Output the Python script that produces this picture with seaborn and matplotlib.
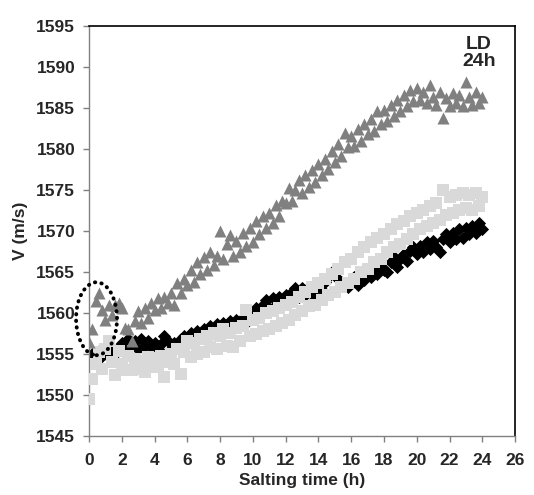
import matplotlib
matplotlib.use("Agg")
import matplotlib.pyplot as plt
import seaborn as sns
from matplotlib.patches import Ellipse

# ---- data ----
time_h = [
    0.0, 0.2, 0.4, 0.6, 0.8, 1.0, 1.2, 1.4, 1.6, 1.8,
    2.0, 2.2, 2.4, 2.6, 2.8, 3.0, 3.2, 3.4, 3.6, 3.8,
    4.0, 4.2, 4.4, 4.6, 4.8, 5.0, 5.2, 5.4, 5.6, 5.8,
    6.0, 6.2, 6.4, 6.6, 6.8, 7.0, 7.2, 7.4, 7.6, 7.8,
    8.0, 8.2, 8.4, 8.6, 8.8, 9.0, 9.2, 9.4, 9.6, 9.8,
    10.0, 10.2, 10.4, 10.6, 10.8, 11.0, 11.2, 11.4, 11.6, 11.8,
    12.0, 12.2, 12.4, 12.6, 12.8, 13.0, 13.2, 13.4, 13.6, 13.8,
    14.0, 14.2, 14.4, 14.6, 14.8, 15.0, 15.2, 15.4, 15.6, 15.8,
    16.0, 16.2, 16.4, 16.6, 16.8, 17.0, 17.2, 17.4, 17.6, 17.8,
    18.0, 18.2, 18.4, 18.6, 18.8, 19.0, 19.2, 19.4, 19.6, 19.8,
    20.0, 20.2, 20.4, 20.6, 20.8, 21.0, 21.2, 21.4, 21.6, 21.8,
    22.0, 22.2, 22.4, 22.6, 22.8, 23.0, 23.2, 23.4, 23.6, 23.8,
    24.0,
]

v_triangles = [
    1556.5, 1558.0, 1561.5, 1562.4, 1560.4, 1559.2, 1561.0, 1559.8, 1561.0, 1561.2,
    1560.6, 1558.2, 1558.0, 1556.6, 1559.0, 1560.2, 1558.8, 1560.6, 1559.4, 1561.2,
    1560.4, 1561.8, 1560.6, 1562.0, 1561.2, 1562.4, 1561.0, 1563.6, 1562.4, 1564.2,
    1563.4, 1565.2, 1563.8, 1566.2, 1564.8, 1566.8, 1565.2, 1567.4, 1565.8, 1567.0,
    1570.0, 1566.6, 1568.4, 1569.5, 1567.0, 1568.8, 1567.4, 1569.8, 1568.2, 1570.4,
    1568.6, 1571.2, 1569.6, 1571.8, 1570.4, 1572.2, 1571.0, 1573.2, 1571.8, 1573.6,
    1573.4, 1575.2, 1573.6, 1575.0, 1576.2, 1574.6, 1576.8, 1575.4, 1577.4, 1576.0,
    1578.2, 1576.8, 1578.8, 1577.6, 1579.8, 1578.4, 1580.6, 1579.2, 1582.0, 1580.2,
    1581.6, 1580.4, 1582.4, 1581.0, 1583.0, 1581.8, 1583.6, 1582.2, 1584.6, 1583.0,
    1584.8, 1583.4, 1585.4, 1584.0, 1586.0, 1584.6, 1586.6, 1585.2, 1587.2, 1585.8,
    1587.4, 1586.0, 1587.0, 1585.6, 1587.8, 1586.4, 1585.4, 1587.0, 1583.8, 1586.2,
    1585.2, 1586.8, 1585.6, 1586.6, 1585.2, 1588.2, 1586.4, 1585.4, 1587.0, 1585.6,
    1586.4,
]

v_diamonds = [
    1554.2, 1555.0, 1554.6, 1555.4, 1554.8, 1555.2, 1554.6, 1555.4, 1555.0, 1555.8,
    1556.4, 1555.4, 1556.8, 1555.8, 1556.6, 1555.6, 1556.8, 1556.0, 1556.6, 1555.8,
    1556.4, 1555.6, 1556.2, 1557.2, 1556.6, 1555.6, 1556.4, 1555.8, 1556.8, 1557.2,
    1556.6, 1557.6, 1557.0, 1557.8, 1557.0, 1558.0, 1557.4, 1558.4, 1557.6, 1558.6,
    1557.8, 1558.8, 1558.2, 1559.0, 1558.2, 1559.2, 1558.6, 1559.4, 1558.8, 1559.8,
    1559.6, 1560.6, 1559.8, 1561.0, 1561.6, 1560.6, 1561.8, 1561.0, 1562.0, 1561.2,
    1562.2, 1561.4, 1562.6, 1563.0, 1562.0, 1563.0, 1562.2, 1563.2, 1562.4, 1562.0,
    1563.4, 1562.8, 1563.8, 1564.4, 1565.0, 1565.0, 1564.2, 1563.8, 1563.4, 1563.2,
    1564.0, 1564.4, 1563.4, 1564.8, 1564.0, 1565.2, 1564.4, 1565.6, 1564.8, 1566.0,
    1565.2, 1565.0, 1566.2, 1566.8, 1565.6, 1566.6, 1567.2, 1566.4, 1567.6, 1568.0,
    1567.2, 1568.2, 1567.4, 1568.6, 1567.8, 1568.8, 1568.0, 1567.4, 1569.0, 1569.6,
    1568.6, 1569.8, 1569.0, 1570.2, 1569.2, 1570.4, 1569.6, 1570.6, 1569.8, 1571.0,
    1570.2,
]

v_squares = [
    1549.5, 1552.0, 1553.8, 1555.2, 1553.2, 1555.6, 1556.6, 1554.0, 1552.4, 1555.4,
    1553.8, 1553.0, 1554.8, 1553.0, 1554.4, 1553.2, 1554.2, 1552.8, 1554.6, 1553.4,
    1554.4, 1553.4, 1554.8, 1552.2, 1554.0, 1555.0, 1553.8, 1555.6, 1552.6, 1555.2,
    1556.6, 1554.6, 1556.4, 1555.0, 1556.8, 1555.2, 1557.2, 1555.8, 1557.6, 1555.6,
    1557.2, 1558.0, 1556.0, 1557.6, 1555.8, 1558.2, 1556.6, 1558.4, 1560.4, 1557.2,
    1559.2, 1557.4, 1559.4, 1557.8, 1560.0, 1558.0, 1560.2, 1558.4, 1560.6, 1558.8,
    1561.0, 1559.2, 1561.4, 1559.8, 1562.0, 1560.2, 1562.6, 1560.8, 1563.2, 1561.0,
    1563.6, 1561.6, 1564.2, 1562.2, 1564.8, 1562.6, 1565.4, 1563.2, 1566.2, 1563.6,
    1566.6, 1564.2, 1567.4, 1565.0, 1568.0, 1565.4, 1568.6, 1566.2, 1569.2, 1566.6,
    1569.6, 1567.4, 1570.2, 1568.0, 1570.8, 1568.4, 1571.2, 1569.0, 1571.8, 1569.6,
    1572.2, 1570.2, 1572.6, 1570.6, 1573.0, 1571.0, 1573.4, 1571.4, 1575.0, 1572.0,
    1574.2, 1572.2, 1574.4, 1572.6, 1574.6, 1572.8, 1574.4, 1572.6, 1574.6, 1573.0,
    1574.2,
]

x_ticks = [0, 2, 4, 6, 8, 10, 12, 14, 16, 18, 20, 22, 24, 26]
y_ticks = [1545, 1550, 1555, 1560, 1565, 1570, 1575, 1580, 1585, 1590, 1595]

# ---- style ----
sns.set_style("white")
plt.rcParams["font.family"] = ["Liberation Sans", "DejaVu Sans"]
plt.rcParams["font.weight"] = "bold"

fig = plt.figure(figsize=(5.34, 4.95), dpi=100)
ax = fig.add_axes([0.1667, 0.1192, 0.7978, 0.8283])

sns.scatterplot(x=time_h, y=v_diamonds, marker="D", color="black", s=45,
                linewidth=0, ax=ax, zorder=2)
sns.scatterplot(x=time_h, y=v_squares, marker="s", color="#d9d9d9", s=75,
                linewidth=0, ax=ax, zorder=3)
sns.scatterplot(x=time_h, y=v_triangles, marker="^", color="#808080", s=75,
                linewidth=0, ax=ax, zorder=4)

ax.set_xlim(0, 26)
ax.set_ylim(1545, 1595)
ax.set_xticks(x_ticks)
ax.set_yticks(y_ticks)
ax.set_xticklabels([str(t) for t in x_ticks], fontsize=12.5, fontweight="bold")
ax.set_yticklabels([str(t) for t in y_ticks], fontsize=12.5, fontweight="bold")
ax.tick_params(axis="both", direction="out", length=4, width=1, color="#808080",
               pad=6, bottom=True, left=True)
ax.tick_params(axis="x", pad=8)

for side in ["left", "bottom"]:
    ax.spines[side].set_color("#808080")
    ax.spines[side].set_linewidth(1)
for side in ["top", "right"]:
    ax.spines[side].set_color("black")
    ax.spines[side].set_linewidth(1.2)
    ax.spines[side].set_visible(True)

ax.set_xlabel("Salting time (h)", fontsize=12.5, fontweight="bold", labelpad=4)
ax.set_ylabel("V (m/s)", fontsize=12.5, fontweight="bold", labelpad=6)

ax.text(23.8, 1593.8, "LD\n24h", ha="center", va="top", fontsize=14,
        fontweight="bold", linespacing=1.0)

ell = Ellipse((0.46, 1559.3), width=2.5, height=8.9, fill=False,
              edgecolor="black", linewidth=2.8, linestyle=(0, (0.1, 1.6)),
              clip_on=False, zorder=6)
ell.set_capstyle("round")
ax.add_patch(ell)

fig.savefig("out.png", dpi=100)
